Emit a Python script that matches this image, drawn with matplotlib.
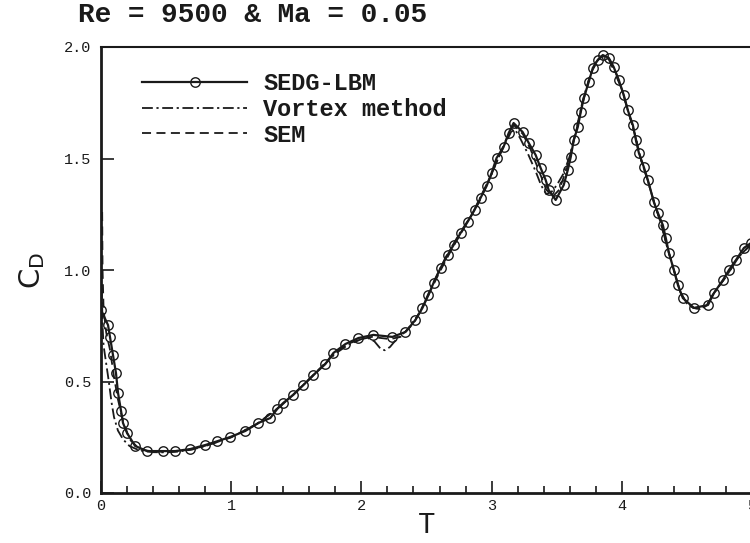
import matplotlib
matplotlib.use("Agg")
import matplotlib.pyplot as plt
from matplotlib.ticker import MultipleLocator, FormatStrFormatter

# ---------------- data ----------------
sedg_t = [0.0, 0.054, 0.069, 0.092, 0.115, 0.131, 0.154, 0.169, 0.2, 0.262, 0.354, 0.477,
          0.569, 0.685, 0.8, 0.892, 0.992, 1.108, 1.208, 1.3, 1.354, 1.4, 1.477, 1.554,
          1.631, 1.723, 1.785, 1.877, 1.977, 2.092, 2.238, 2.338, 2.415, 2.469, 2.515,
          2.554, 2.608, 2.662, 2.708, 2.762, 2.815, 2.869, 2.915, 2.962, 3.0, 3.038, 3.092,
          3.131, 3.169, 3.238, 3.285, 3.338, 3.377, 3.415, 3.438, 3.492, 3.554, 3.585,
          3.608, 3.631, 3.662, 3.685, 3.708, 3.746, 3.777, 3.815, 3.854, 3.9, 3.938, 3.977,
          4.015, 4.046, 4.085, 4.108, 4.131, 4.169, 4.2, 4.246, 4.277, 4.315, 4.338, 4.362,
          4.4, 4.431, 4.469, 4.554, 4.662, 4.708, 4.777, 4.823, 4.877, 4.938, 4.992]
sedg_cd = [0.821, 0.753, 0.700, 0.619, 0.538, 0.448, 0.368, 0.314, 0.269, 0.211, 0.188, 0.188,
           0.188, 0.197, 0.215, 0.232, 0.251, 0.278, 0.314, 0.336, 0.377, 0.404, 0.44, 0.484,
           0.529, 0.578, 0.628, 0.668, 0.695, 0.709, 0.70, 0.722, 0.776, 0.83, 0.888,
           0.942, 1.009, 1.067, 1.112, 1.166, 1.215, 1.269, 1.323, 1.377, 1.435, 1.502, 1.552,
           1.614, 1.659, 1.619, 1.570, 1.516, 1.457, 1.404, 1.359, 1.314, 1.381, 1.448,
           1.507, 1.583, 1.641, 1.709, 1.771, 1.843, 1.906, 1.942, 1.964, 1.951, 1.910, 1.852,
           1.785, 1.717, 1.650, 1.583, 1.525, 1.462, 1.404, 1.305, 1.256, 1.202, 1.143, 1.076,
           1.0, 0.933, 0.874, 0.830, 0.843, 0.897, 0.955, 1.0, 1.045, 1.099, 1.121]

vortex_t = [0.006, 0.012, 0.02, 0.04, 0.06, 0.08, 0.1, 0.13, 0.17, 0.22, 0.3, 0.4, 0.5, 0.6,
            0.7, 0.8, 0.9, 1.0, 1.2, 1.4, 1.6, 1.8, 1.9, 2.0, 2.05, 2.1, 2.15, 2.18, 2.22,
            2.27, 2.35, 2.45, 2.55, 2.65, 2.75, 2.85, 2.95, 3.0, 3.05, 3.1, 3.15, 3.18, 3.22,
            3.28, 3.34, 3.38, 3.42, 3.46, 3.5, 3.55, 3.6, 3.65, 3.7, 3.75, 3.8, 3.85, 3.9,
            3.95, 4.0, 4.05, 4.1, 4.15, 4.2, 4.25, 4.3, 4.35, 4.4, 4.45, 4.5, 4.55, 4.6, 4.65,
            4.7, 4.8, 4.9, 5.0]
vortex_cd = [0.92, 0.75, 0.66, 0.58, 0.50, 0.41, 0.34, 0.28, 0.24, 0.21, 0.19, 0.183, 0.182,
             0.186, 0.195, 0.21, 0.23, 0.25, 0.31, 0.40, 0.51, 0.625, 0.665, 0.69, 0.695, 0.68,
             0.645, 0.64, 0.655, 0.69, 0.73, 0.81, 0.94, 1.06, 1.16, 1.25, 1.37, 1.43, 1.50,
             1.56, 1.62, 1.63, 1.59, 1.52, 1.44, 1.38, 1.34, 1.35, 1.38, 1.43, 1.51, 1.63,
             1.76, 1.86, 1.93, 1.96, 1.945, 1.88, 1.81, 1.71, 1.61, 1.49, 1.40, 1.30, 1.21,
             1.10, 1.00, 0.90, 0.85, 0.83, 0.825, 0.84, 0.89, 0.97, 1.06, 1.12]

sem_t = [0.009, 0.012, 0.02, 0.04, 0.07, 0.1, 0.13, 0.17, 0.22, 0.3, 0.4, 0.5, 0.6, 0.7, 0.8,
         0.9, 1.0, 1.2, 1.4, 1.6, 1.8, 1.9, 2.0, 2.08, 2.15, 2.22, 2.3, 2.4, 2.5, 2.6, 2.7,
         2.8, 2.9, 3.0, 3.1, 3.17, 3.24, 3.3, 3.36, 3.42, 3.47, 3.52, 3.58, 3.64, 3.7, 3.76,
         3.82, 3.86, 3.9, 3.95, 4.0, 4.05, 4.1, 4.15, 4.2, 4.25, 4.3, 4.35, 4.4, 4.45, 4.5,
         4.55, 4.6, 4.65, 4.7, 4.8, 4.9, 5.0]
sem_cd = [1.26, 1.0, 0.82, 0.72, 0.64, 0.52, 0.42, 0.32, 0.24, 0.195, 0.186, 0.185, 0.188,
          0.196, 0.212, 0.23, 0.25, 0.31, 0.40, 0.51, 0.63, 0.67, 0.69, 0.70, 0.695, 0.69,
          0.70, 0.76, 0.87, 0.99, 1.10, 1.20, 1.30, 1.43, 1.57, 1.65, 1.61, 1.54, 1.45, 1.36,
          1.33, 1.36, 1.46, 1.60, 1.75, 1.88, 1.945, 1.96, 1.95, 1.89, 1.81, 1.71, 1.61, 1.49,
          1.40, 1.30, 1.21, 1.10, 1.00, 0.90, 0.85, 0.83, 0.825, 0.84, 0.89, 0.97, 1.06, 1.12]

title = "Re = 9500 & Ma = 0.05"
labels = ["SEDG-LBM", "Vortex method", "SEM"]

# ---------------- plot ----------------
mono = "Liberation Mono"
ink = "#1a1a1a"
fig = plt.figure(figsize=(7.5, 5.43), dpi=100)
ax = fig.add_axes([101 / 750, 50 / 543, 651 / 750, 446 / 543])

ax.plot(sedg_t, sedg_cd, color=ink, lw=1.6, marker="o", ms=6.8, mfc="none", mec=ink, mew=1.0,
        label=labels[0])
ax.plot(vortex_t, vortex_cd, color=ink, lw=1.3, dashes=[6, 2, 1.2, 2], label=labels[1])
ax.plot(sem_t, sem_cd, color=ink, lw=1.3, dashes=[5, 3], label=labels[2])

ax.set_xlim(0, 5)
ax.set_ylim(0, 2)
ax.xaxis.set_major_locator(MultipleLocator(1))
ax.xaxis.set_minor_locator(MultipleLocator(0.2))
ax.yaxis.set_major_locator(MultipleLocator(0.5))
ax.yaxis.set_major_formatter(FormatStrFormatter("%.1f"))
ax.tick_params(which="both", direction="in", top=False, right=False, colors=ink,
               labelsize=11, width=1.2)
ax.tick_params(which="major", length=9)
ax.tick_params(which="minor", length=5)
ax.tick_params(axis="y", pad=7)
ax.tick_params(axis="x", pad=4)
for lab in ax.get_xticklabels() + ax.get_yticklabels():
    lab.set_family(mono)
for s in ["left", "bottom"]:
    ax.spines[s].set_linewidth(2.0)
for s in ["top", "right"]:
    ax.spines[s].set_linewidth(1.5)
for s in ax.spines.values():
    s.set_color(ink)

ax.set_xlabel("T", family=mono, fontsize=21, color=ink, labelpad=-1)
ax.set_ylabel(r"C$_\mathregular{D}$", family="DejaVu Sans", fontsize=21, color=ink,
              labelpad=12)

fig.text(78 / 750, 1 - 15 / 543, title, family=mono, fontweight="bold", fontsize=20,
         color=ink, va="center", ha="left")

leg = ax.legend(loc="upper left", bbox_to_anchor=(0.063, 0.944), frameon=False,
                prop={"family": mono, "weight": "bold", "size": 17},
                handlelength=4.45, handletextpad=0.68, labelspacing=0.12, borderpad=0,
                borderaxespad=0, numpoints=1)
for t in leg.get_texts():
    t.set_color(ink)

fig.savefig("out.png", dpi=100)
